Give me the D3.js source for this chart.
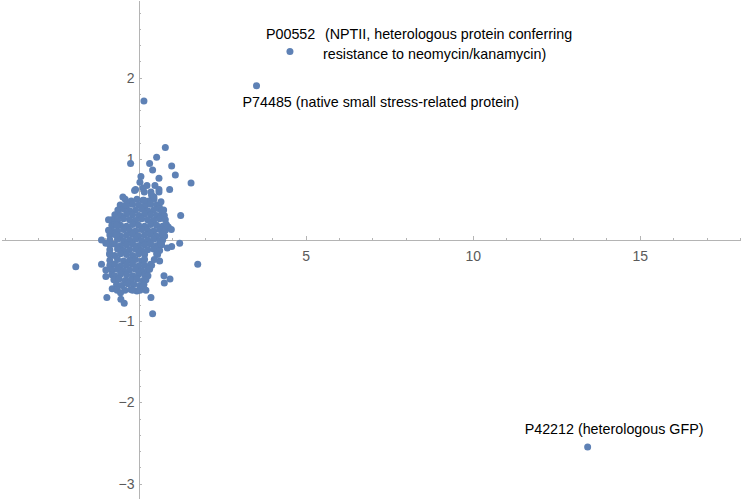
<!DOCTYPE html>
<html>
<head>
<meta charset="utf-8">
<script src="https://cdnjs.cloudflare.com/ajax/libs/d3/7.8.5/d3.min.js"></script>
<style>
  body { margin: 0; background: #fff; }
  svg { display: block; }
  .tick text { font-family: "Liberation Sans", Arial, sans-serif; font-size: 14px; fill: #5a5a5a; }
  .axis path, .axis line { stroke: #b4b4b4; shape-rendering: crispEdges; }
  .callout { font-family: "Liberation Sans", Arial, sans-serif; font-size: 14.3px; fill: #000; }
</style>
</head>
<body>
<div id="scatter"></div>
<script>
// ------------ DATA ------------
// dense cloud of proteins around the origin [x, y]
var corePoints = [
  [-0.40,0.50],[-0.22,0.48],[-0.05,0.50],[0.13,0.49],[0.31,0.48],[0.46,0.50],
  [-0.55,0.43],[-0.36,0.42],[-0.18,0.44],[0.00,0.43],[0.19,0.42],[0.36,0.44],[0.54,0.43],[0.62,0.41],
  [-0.62,0.37],[-0.45,0.38],[-0.27,0.36],[-0.09,0.37],[0.10,0.38],[0.27,0.36],[0.45,0.37],[0.63,0.38],[0.69,0.36],
  [-0.71,0.31],[-0.54,0.30],[-0.36,0.32],[-0.18,0.31],[0.01,0.30],[0.18,0.32],[0.36,0.31],[0.54,0.30],[0.71,0.31],[0.77,0.30],
  [-0.80,0.25],[-0.63,0.24],[-0.45,0.26],[-0.27,0.25],[-0.09,0.24],[0.09,0.26],[0.27,0.25],[0.45,0.24],[0.63,0.26],[0.80,0.25],
  [-0.80,0.18],[-0.72,0.19],[-0.54,0.18],[-0.36,0.17],[-0.18,0.19],[0.00,0.18],[0.18,0.17],[0.36,0.19],[0.54,0.18],[0.72,0.17],[0.83,0.19],
  [-0.80,0.12],[-0.63,0.11],[-0.45,0.13],[-0.27,0.12],[-0.09,0.11],[0.09,0.13],[0.27,0.12],[0.45,0.11],[0.63,0.13],[0.80,0.12],
  [-0.86,0.06],[-0.72,0.07],[-0.54,0.05],[-0.36,0.06],[-0.18,0.07],[0.00,0.05],[0.18,0.06],[0.36,0.07],[0.54,0.05],[0.72,0.06],[0.78,0.05],
  [-0.86,0.00],[-0.63,0.01],[-0.45,-0.01],[-0.27,0.00],[-0.09,0.01],[0.09,-0.01],[0.27,0.00],[0.45,0.01],[0.63,-0.01],[0.72,0.00],
  [-0.86,-0.06],[-0.72,-0.05],[-0.54,-0.07],[-0.36,-0.06],[-0.18,-0.05],[0.00,-0.07],[0.18,-0.06],[0.36,-0.05],[0.54,-0.07],[0.69,-0.06],
  [-0.86,-0.12],[-0.63,-0.11],[-0.45,-0.13],[-0.27,-0.12],[-0.09,-0.11],[0.09,-0.13],[0.27,-0.12],[0.45,-0.11],[0.63,-0.13],
  [-0.86,-0.18],[-0.72,-0.19],[-0.54,-0.17],[-0.36,-0.18],[-0.18,-0.19],[0.00,-0.17],[0.18,-0.18],[0.54,-0.17],[0.57,-0.18],
  [-0.86,-0.25],[-0.63,-0.24],[-0.45,-0.26],[-0.27,-0.25],[-0.09,-0.24],[0.09,-0.26],[0.18,-0.24],[0.47,-0.24],
  [-0.86,-0.31],[-0.72,-0.30],[-0.54,-0.32],[-0.36,-0.31],[-0.18,-0.30],[0.00,-0.32],[0.18,-0.31],[0.36,-0.30],[0.39,-0.31],
  [-0.80,-0.37],[-0.63,-0.36],[-0.45,-0.38],[-0.27,-0.37],[-0.09,-0.36],[0.09,-0.38],[0.27,-0.37],[0.33,-0.36],
  [-0.80,-0.43],[-0.72,-0.44],[-0.54,-0.42],[-0.36,-0.43],[-0.18,-0.44],[0.00,-0.42],[0.18,-0.43],[0.28,-0.44],
  [-0.74,-0.49],[-0.58,-0.48],[-0.40,-0.50],[-0.22,-0.49],[-0.04,-0.48],[0.14,-0.50],[0.22,-0.49],
  [-0.66,-0.55],[-0.50,-0.56],[-0.32,-0.54],[-0.14,-0.55],[0.04,-0.56],[0.16,-0.55],
  [-0.41,-0.62],[-0.23,-0.61],[-0.05,-0.63],[0.04,-0.62]
];

// scattered proteins around the cloud [x, y]
var outerPoints = [
  [0.16,1.71],[0.80,1.14],[0.54,1.02],[-0.24,0.94],[0.33,0.94],[0.99,0.91],[0.42,0.86],[1.10,0.80],
  [0.61,0.76],[0.07,0.78],[0.04,0.71],[0.25,0.67],[0.49,0.67],[1.57,0.70],[-0.12,0.61],[0.93,0.62],
  [0.61,0.62],[0.13,0.64],[-0.09,0.62],[0.17,0.59],[0.37,0.59],[0.61,0.59],[-0.47,0.53],[0.39,0.55],
  [0.46,0.53],[0.16,0.49],[0.67,0.47],[-0.38,0.43],[0.75,0.37],[1.26,0.30],[-0.90,0.25],[-0.65,0.18],
  [0.89,0.16],[0.98,0.13],[-0.90,0.12],[-0.67,0.06],[0.71,0.07],[-1.11,0.00],[-0.98,-0.04],[1.23,-0.04],
  [0.99,-0.08],[0.86,-0.10],[0.67,-0.05],[-0.87,-0.17],[-1.88,-0.33],[-1.11,-0.30],[1.77,-0.30],[0.63,-0.26],
  [-0.98,-0.37],[-0.98,-0.45],[0.76,-0.44],[0.94,-0.48],[0.77,-0.53],[-0.79,-0.60],[-0.64,-0.62],[-0.54,-0.65],
  [-0.18,-0.62],[0.13,-0.57],[0.22,-0.62],[-0.95,-0.71],[-0.53,-0.73],[-0.43,-0.78],[0.37,-0.71],[0.42,-0.91]
];

// labelled outliers
var namedIds = ["P00552", "P74485", "P42212"];
var namedX = [4.53, 3.53, 13.44];
var namedY = [2.32, 1.90, -2.55];
var namedNotes = [
  ["(NPTII, heterologous protein conferring", "resistance to neomycin/kanamycin)"],
  ["(native small stress-related protein)"],
  ["(heterologous GFP)"]
];

// tick labels
var xMajorTicks = [5, 10, 15];
var yMajorTicks = [-3, -2, -1, 1, 2];

// ------------ CHART FORMATTING ------------
var svgWidth = 750;
var svgHeight = 499;

var svg = d3.select("#scatter")
  .append("svg")
  .attr("width", svgWidth)
  .attr("height", svgHeight);

// scales (plot range runs edge to edge, axes cross at origin)
var x = d3.scaleLinear()
  .domain([-4.1, 18])
  .range([1.6, 740]);
var y = d3.scaleLinear()
  .domain([-3.2, 2.955])
  .range([499.8, 0]);

// minor ticks
var xMinor = d3.range(-4, 19, 1).filter(v => v !== 0 && xMajorTicks.indexOf(v) < 0);
var yMinor = d3.range(-16, 15).map(v => +(v * 0.2).toFixed(1))
  .filter(v => v !== 0 && yMajorTicks.indexOf(v) < 0);

var intFormat = d3.format("d");

// ------------ AXES ------------
// x axis (ticks point upward into plot)
svg.append("g")
  .attr("class", "axis")
  .attr("transform", "translate(0," + y(0) + ")")
  .call(d3.axisBottom(x).tickValues(xMinor).tickFormat("").tickSizeInner(-2).tickSizeOuter(0))
  .call(g => g.select(".domain").remove());
svg.append("g")
  .attr("class", "axis")
  .attr("transform", "translate(0," + y(0) + ")")
  .call(d3.axisBottom(x).tickValues(xMajorTicks).tickFormat(intFormat)
    .tickSizeInner(-3.5).tickSizeOuter(0).tickPadding(11));

// y axis (ticks point right)
svg.append("g")
  .attr("class", "axis")
  .attr("transform", "translate(" + x(0) + ",0)")
  .call(d3.axisLeft(y).tickValues(yMinor).tickFormat("").tickSizeInner(-2).tickSizeOuter(0))
  .call(g => g.select(".domain").remove());
svg.append("g")
  .attr("class", "axis")
  .attr("transform", "translate(" + x(0) + ",0)")
  .call(d3.axisLeft(y).tickValues(yMajorTicks).tickFormat(intFormat)
    .tickSizeInner(-3.5).tickSizeOuter(0).tickPadding(4));

// ------------ DATA (DOTS) ------------
var allPoints = corePoints.concat(outerPoints)
  .concat(namedIds.map((id, i) => [namedX[i], namedY[i]]));

svg.append("g")
  .selectAll("circle")
  .data(allPoints)
  .enter()
  .append("circle")
    .attr("cx", d => x(d[0]))
    .attr("cy", d => y(d[1]))
    .attr("r", 3.5)
    .attr("fill", "#5e81b5");

// ------------ CALLOUTS ------------
// P00552: id above-left of the dot, note in two lines to the right
var p0 = [x(namedX[0]), y(namedY[0])];
svg.append("text").attr("class", "callout")
  .attr("x", p0[0] - 24).attr("y", p0[1] - 12.5).text(namedIds[0]);
svg.append("text").attr("class", "callout")
  .attr("x", p0[0] + 35).attr("y", p0[1] - 12.5).text(namedNotes[0][0]);
svg.append("text").attr("class", "callout")
  .attr("x", p0[0] + 33).attr("y", p0[1] + 7.5).text(namedNotes[0][1]);

// P74485: below-left of the dot
var p1 = [x(namedX[1]), y(namedY[1])];
svg.append("text").attr("class", "callout")
  .attr("x", p1[0] - 14).attr("y", p1[1] + 21.5)
  .text(namedIds[1] + " " + namedNotes[1][0]);

// P42212: above-left of the dot
var p2 = [x(namedX[2]), y(namedY[2])];
svg.append("text").attr("class", "callout")
  .attr("x", p2[0] - 63).attr("y", p2[1] - 13.5)
  .text(namedIds[2] + " " + namedNotes[2][0]);
</script>
</body>
</html>
